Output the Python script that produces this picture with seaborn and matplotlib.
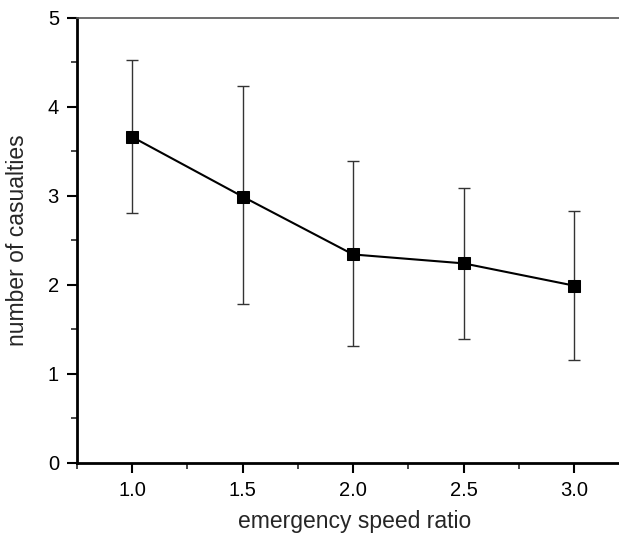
import numpy as np
import pandas as pd
import seaborn as sns
import matplotlib
matplotlib.use("Agg")
import matplotlib.pyplot as plt
from matplotlib.ticker import MultipleLocator

# valores
speed_ratio = [1.0, 1.5, 2.0, 2.5, 3.0]
casualties = [3.66, 2.99, 2.34, 2.24, 1.99]
err_upper = [4.53, 4.23, 3.39, 3.09, 2.83]
err_lower = [2.81, 1.78, 1.31, 1.39, 1.15]

df = pd.DataFrame({"ratio": speed_ratio, "casualties": casualties})

sns.set_style("ticks")
plt.rcParams["font.family"] = ["Liberation Sans", "DejaVu Sans"]

fig = plt.figure(figsize=(6.19, 5.34), dpi=100)
ax = fig.add_axes([0.1244, 0.1335, 0.892, 0.8333])

yerr = np.array([
    np.array(casualties) - np.array(err_lower),
    np.array(err_upper) - np.array(casualties),
])
ax.errorbar(speed_ratio, casualties, yerr=yerr, fmt="none",
            ecolor="#333333", elinewidth=1.0, capsize=4, capthick=1.0)

sns.lineplot(data=df, x="ratio", y="casualties", ax=ax, color="black",
             marker="s", markersize=8, markeredgecolor="black", linewidth=1.5)

ax.set_xlim(0.75, 3.25)
ax.set_ylim(0, 5)
ax.xaxis.set_minor_locator(MultipleLocator(0.25))
ax.yaxis.set_major_locator(MultipleLocator(1))
ax.yaxis.set_minor_locator(MultipleLocator(0.5))
ax.set_xticks([1.0, 1.5, 2.0, 2.5, 3.0])
ax.set_xticklabels(["1.0", "1.5", "2.0", "2.5", "3.0"])

ax.tick_params(axis="both", which="major", direction="out", length=7, width=1.5,
               labelsize=14.5, colors="black", pad=6)
ax.tick_params(axis="both", which="minor", direction="out", length=4, width=1.2)

for s in ["left", "bottom"]:
    ax.spines[s].set_linewidth(2)
    ax.spines[s].set_color("black")
ax.spines["top"].set_linewidth(1.2)
ax.spines["top"].set_color("#555555")
ax.spines["right"].set_visible(False)

ax.set_xlabel("emergency speed ratio", fontsize=16.5)
ax.set_ylabel("number of casualties", fontsize=16.5)
ax.xaxis.set_label_coords(0.502, -0.1326)
ax.yaxis.set_label_coords(-0.1078, 0.5)
ax.xaxis.label.set_verticalalignment("center")
ax.yaxis.label.set_verticalalignment("center")

fig.savefig("out.png", dpi=100)
